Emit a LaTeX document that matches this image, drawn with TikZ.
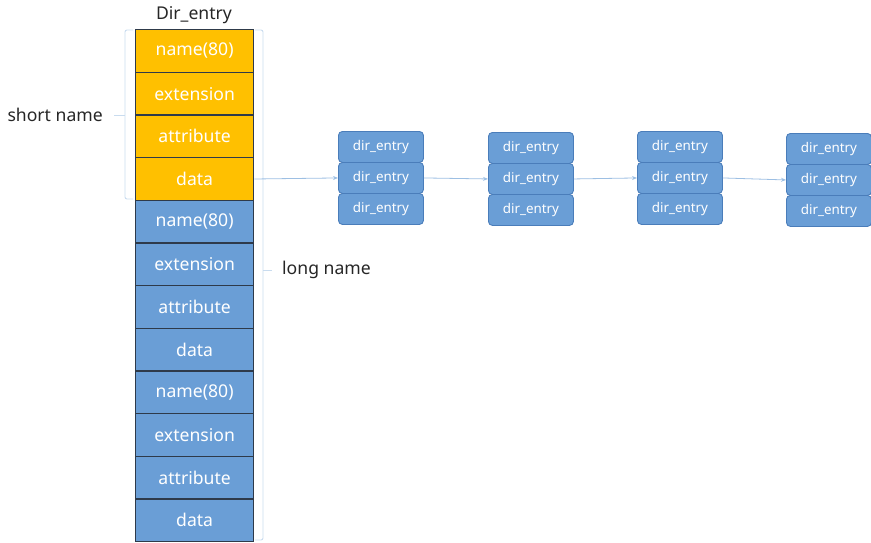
\documentclass[tikz,border=0pt]{standalone}
\usepackage{fontspec}
\setmainfont{Noto Sans}
\usetikzlibrary{arrows.meta}
\definecolor{cellyellow}{HTML}{FFC000}
\definecolor{cellblue}{HTML}{6A9ED6}
\definecolor{cellline}{HTML}{2E3A4A}
\definecolor{entryblue}{HTML}{6A9ED6}
\definecolor{entryline}{HTML}{4A7DBA}
\definecolor{linkblue}{HTML}{9DBFE3}
\definecolor{bracketblue}{HTML}{C9DCEF}
\begin{document}
\begin{tikzpicture}[x=1pt,y=-1pt,
  cell/.style={draw=cellline, line width=1.3pt, minimum width=118pt, minimum height=42.67pt,
    text=white, font=\fontsize{17.6}{20}\selectfont, inner sep=0pt, anchor=north west},
  shortcell/.style={cell, fill=cellyellow},
  longcell/.style={cell, fill=cellblue},
  entry/.style={draw=entryline, line width=0.9pt, fill=entryblue, rounded corners=4pt,
    minimum width=85pt, minimum height=31pt, text=white,
    font=\fontsize{13.4}{15}\selectfont, inner sep=0pt, anchor=north west},
  link/.style={draw=linkblue, line width=0.8pt, -{Stealth[length=5pt,width=4pt]}},
  bracket/.style={draw=bracketblue, line width=0.9pt, rounded corners=2pt},
  label/.style={text=black!85, font=\fontsize{17.6}{20}\selectfont, inner sep=0pt}]
\useasboundingbox (0,0) rectangle (871,543);

% the record column
\foreach \name/\txt [count=\i from 0] in {
  s1/name(80), s2/extension, s3/attribute, s4/data}
  \node[shortcell] (\name) at (135,{29+42.67*\i}) {\txt};
\foreach \name/\txt [count=\i from 4] in {
  l1/name(80), l2/extension, l3/attribute, l4/data,
  l5/name(80), l6/extension, l7/attribute, l8/data}
  \node[longcell] (\name) at (135,{29+42.67*\i}) {\txt};

\node[label, anchor=south] (title) at (194,24) {Dir\_entry};

% brackets for the two groups
\draw[bracket] (133,30) -- (125,30) -- (125,199) -- (133,199);
\coordinate (sntick) at (125,115);
\node[label, anchor=east] (sn) at (103,115) {short name};
\draw[bracketblue, line width=0.9pt] (sntick) -- ++(-11,0);

\draw[bracket] (255,30) -- (263,30) -- (263,540) -- (255,540);
\coordinate (lntick) at (263,270);
\node[label, anchor=west] (ln) at (282,270) {long name};
\draw[bracketblue, line width=0.9pt] (lntick) -- ++(9,0);

% chained dir_entry blocks
\foreach \g/\x/\y in {1/338/131, 2/488/132, 3/637/131, 4/786/133} {
  \node[entry] (g\g a) at (\x,\y) {dir\_entry};
  \node[entry] (g\g b) at (\x,\y+31) {dir\_entry};
  \node[entry] (g\g c) at (\x,\y+62) {dir\_entry};
}

\draw[link] (s4.east) -- (g1b.west);
\draw[link] (g1b.east) -- (g2b.west);
\draw[link] (g2b.east) -- (g3b.west);
\draw[link] (g3b.east) -- (g4b.west);
\end{tikzpicture}
\end{document}
